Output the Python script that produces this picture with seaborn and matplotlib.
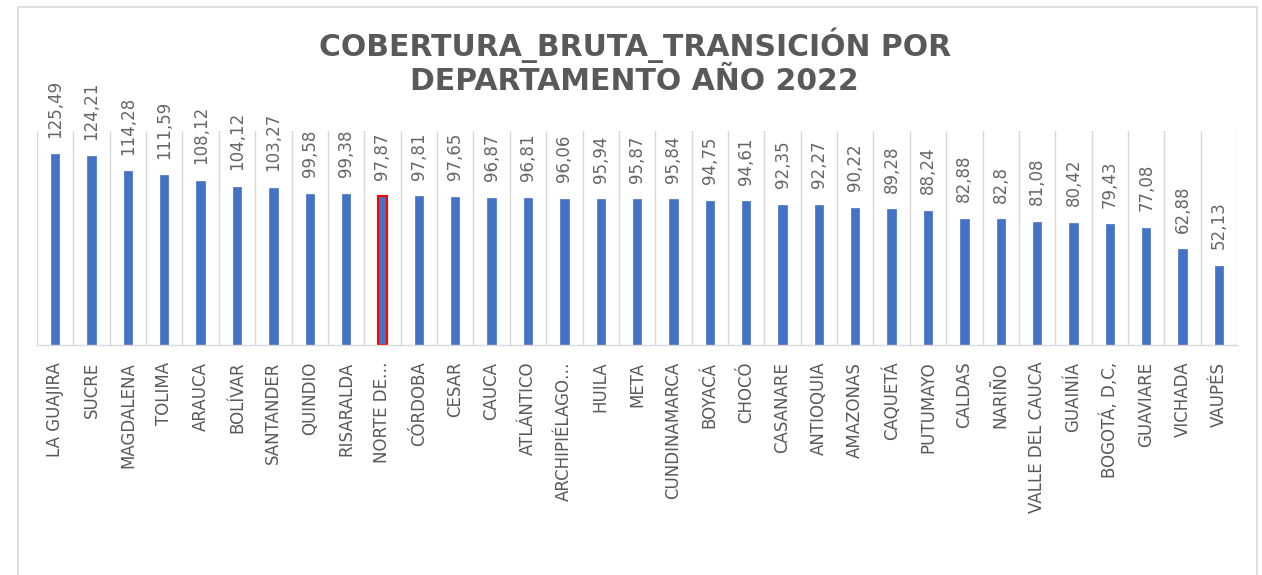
import matplotlib
matplotlib.use("Agg")
import matplotlib.pyplot as plt
import seaborn as sns
import pandas as pd
from matplotlib.patches import Rectangle

# datos
departamentos = ["LA GUAJIRA", "SUCRE", "MAGDALENA", "TOLIMA", "ARAUCA", "BOLÍVAR",
                 "SANTANDER", "QUINDIO", "RISARALDA", "NORTE DE…", "CÓRDOBA", "CESAR",
                 "CAUCA", "ATLÁNTICO", "ARCHIPIÉLAGO…", "HUILA", "META", "CUNDINAMARCA",
                 "BOYACÁ", "CHOCÓ", "CASANARE", "ANTIOQUIA", "AMAZONAS", "CAQUETÁ",
                 "PUTUMAYO", "CALDAS", "NARIÑO", "VALLE DEL CAUCA", "GUAINÍA",
                 "BOGOTÁ, D,C,", "GUAVIARE", "VICHADA", "VAUPÉS"]
cobertura = [125.49, 124.21, 114.28, 111.59, 108.12, 104.12, 103.27, 99.58, 99.38,
             97.87, 97.81, 97.65, 96.87, 96.81, 96.06, 95.94, 95.87, 95.84, 94.75,
             94.61, 92.35, 92.27, 90.22, 89.28, 88.24, 82.88, 82.8, 81.08, 80.42,
             79.43, 77.08, 62.88, 52.13]
destacado = "NORTE DE…"

df = pd.DataFrame({"dep": departamentos, "valor": cobertura})

gris = "#595959"
azul = "#4472C4"

fig = plt.figure(figsize=(12.62, 5.75), dpi=100)
ax = fig.add_axes([0.0293, 0.40, 0.951, 0.372])

sns.barplot(data=df, x="dep", y="valor", color=azul, width=0.23, ax=ax,
            saturation=1, edgecolor=azul, linewidth=0.5)

for patch, dep in zip(ax.patches, departamentos):
    if dep == destacado:
        patch.set_edgecolor("#FF0000")
        patch.set_linewidth(1.5)

etiquetas = [f"{v:g}".replace(".", ",") for v in cobertura]
ax.bar_label(ax.containers[0], labels=etiquetas, rotation=90, padding=12,
             fontsize=12, color="#666666", family="DejaVu Sans")

ax.set_ylim(0, 140.8)
ax.set_xlim(-0.5, len(departamentos) - 0.5)
ax.set_yticks([])
ax.set_xlabel("")
ax.set_ylabel("")
ax.set_xticks(range(len(departamentos)))
ax.set_xticklabels(departamentos, rotation=90, fontsize=12, color=gris,
                   family="DejaVu Sans")
ax.tick_params(axis="x", length=0, pad=12)

# lineas verticales entre categorias
ax.set_xticks([i - 0.5 for i in range(len(departamentos) + 1)], minor=True)
ax.tick_params(axis="x", which="minor", length=0)
ax.grid(axis="x", which="minor", color="#D9D9D9", linewidth=1)
ax.grid(axis="x", which="major", visible=False)
ax.set_axisbelow(True)
for lado in ["top", "right", "left"]:
    ax.spines[lado].set_visible(False)
ax.spines["bottom"].set_color("#D9D9D9")
ax.spines["bottom"].set_linewidth(1)

fig.text(0.503, 0.893, "COBERTURA_BRUTA_TRANSICIÓN POR\nDEPARTAMENTO AÑO 2022",
         ha="center", va="center", fontsize=21.5, fontweight="bold", color=gris,
         linespacing=1.15, family="DejaVu Sans")

# borde exterior
fig.patches.append(Rectangle((18 / 1262, -0.01), 1239 / 1262, 1 - 7 / 575 + 0.01,
                             transform=fig.transFigure, fill=False,
                             edgecolor="#D9D9D9", linewidth=1.2))

fig.savefig("out.png", dpi=100)
